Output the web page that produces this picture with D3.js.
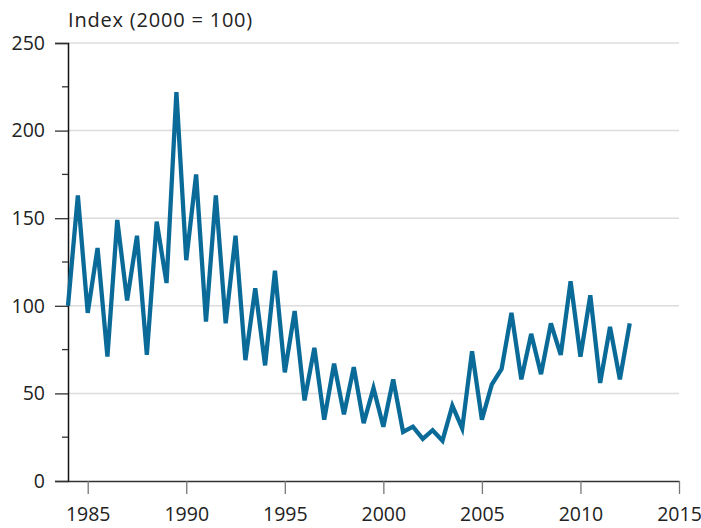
<!DOCTYPE html>
<html>
<head>
<meta charset="utf-8">
<script src="https://cdn.jsdelivr.net/npm/d3@7"></script>
<style>
  body { margin: 0; background: #fff; }
  svg { display: block; font-family: "Open Sans", sans-serif; }
</style>
</head>
<body>
<svg id="chart" width="701" height="528"></svg>
<script>
// half-year observations, index 2000 = 100
var periods = [1984, 1984.5, 1985, 1985.5, 1986, 1986.5, 1987, 1987.5, 1988, 1988.5,
               1989, 1989.5, 1990, 1990.5, 1991, 1991.5, 1992, 1992.5, 1993, 1993.5,
               1994, 1994.5, 1995, 1995.5, 1996, 1996.5, 1997, 1997.5, 1998, 1998.5,
               1999, 1999.5, 2000, 2000.5, 2001, 2001.5, 2002, 2002.5, 2003, 2003.5,
               2004, 2004.5, 2005, 2005.5, 2006, 2006.5, 2007, 2007.5, 2008, 2008.5,
               2009, 2009.5, 2010, 2010.5, 2011, 2011.5, 2012, 2012.5];
var values = [100, 163, 96, 133, 71, 149, 103, 140, 72, 148,
              113, 222, 126, 175, 91, 163, 90, 140, 69, 110,
              66, 120, 62, 97, 46, 76, 35, 67, 38, 65,
              33, 53, 31, 58, 28, 31, 24, 29, 23, 43,
              30, 74, 35, 55, 64, 96, 58, 84, 61, 90,
              72, 114, 71, 106, 56, 88, 58, 90];
var xTicks = [1985, 1990, 1995, 2000, 2005, 2010, 2015];
var yTicks = [0, 50, 100, 150, 200, 250];
var yMinor = [25, 75, 125, 175, 225];
var title = "Index (2000 = 100)";

var svg = d3.select("#chart");

var x = d3.scaleLinear().domain([1984, 2015]).range([68, 679]);
var y = d3.scaleLinear().domain([0, 250]).range([481, 43]);

// gridlines
svg.append("g")
    .selectAll("line")
    .data(yTicks.slice(1))
    .enter().append("line")
    .attr("x1", x(1984)).attr("x2", x(2015))
    .attr("y1", function(d) { return y(d); })
    .attr("y2", function(d) { return y(d); })
    .attr("stroke", "#dcdcdc")
    .attr("stroke-width", 1.5);

// y axis
var yAxis = svg.append("g")
    .attr("transform", "translate(" + x(1984) + ",0)")
    .call(d3.axisLeft(y).tickValues(yTicks).tickSize(13).tickPadding(10));
yAxis.select(".domain").attr("stroke", "#111").attr("stroke-width", 1.5);
yAxis.selectAll(".tick line").attr("stroke", "#333").attr("stroke-width", 1.3);
yAxis.selectAll(".tick text")
    .attr("font-size", "19.5px").attr("fill", "#222")
    .attr("font-family", "Open Sans, sans-serif");

svg.append("g")
    .selectAll("line")
    .data(yMinor)
    .enter().append("line")
    .attr("x1", x(1984) - 6).attr("x2", x(1984))
    .attr("y1", function(d) { return y(d); })
    .attr("y2", function(d) { return y(d); })
    .attr("stroke", "#333")
    .attr("stroke-width", 1.3);

// x axis
var xAxis = svg.append("g")
    .attr("transform", "translate(0," + y(0) + ")")
    .call(d3.axisBottom(x).tickValues(xTicks).tickFormat(d3.format("d"))
        .tickSize(13).tickSizeOuter(0).tickPadding(13));
xAxis.select(".domain").attr("stroke", "#333").attr("stroke-width", 1.5);
xAxis.selectAll(".tick line").attr("stroke", "#777").attr("stroke-width", 1.3);
xAxis.selectAll(".tick text")
    .attr("font-size", "19.5px").attr("fill", "#222")
    .attr("font-family", "Open Sans, sans-serif");

// data line
var line = d3.line()
    .x(function(d, i) { return x(periods[i]); })
    .y(function(d) { return y(d); });

svg.append("path")
    .datum(values)
    .attr("d", line)
    .attr("fill", "none")
    .attr("stroke", "#0a6b99")
    .attr("stroke-width", 4.3)
    .attr("stroke-linejoin", "miter");

// title
svg.append("text")
    .attr("x", 68).attr("y", 27)
    .attr("font-size", "20px")
    .attr("letter-spacing", "0.8px")
    .attr("fill", "#222")
    .text(title);
</script>
</body>
</html>
